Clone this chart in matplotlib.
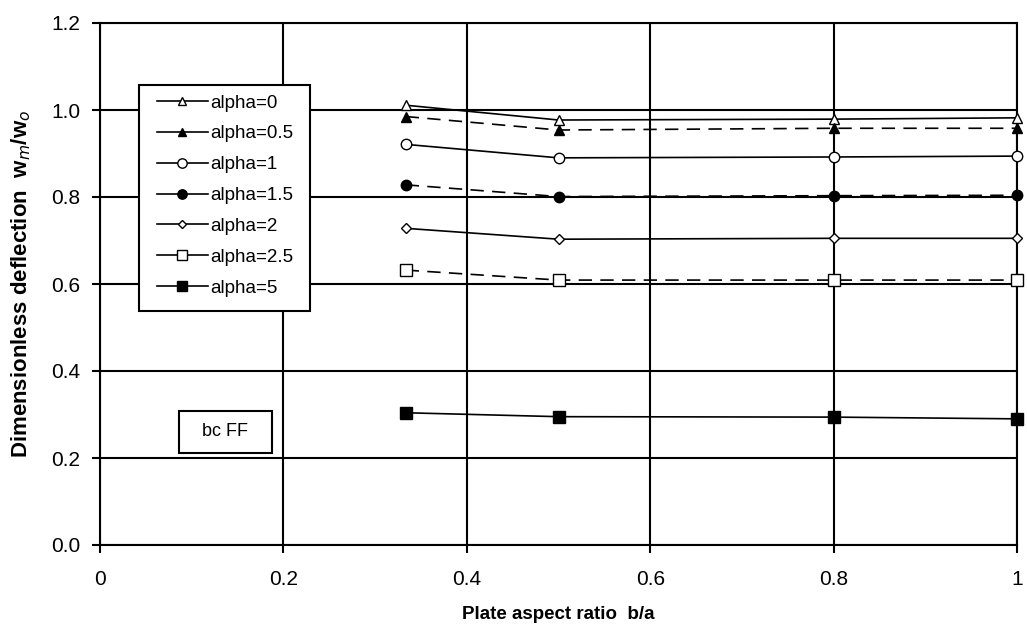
import numpy as np
import matplotlib.pyplot as plt
from matplotlib.lines import Line2D
from matplotlib.patches import Rectangle

plt.rcParams['font.family'] = ['Liberation Sans', 'DejaVu Sans']

# data
aspect = [1/3, 0.5, 0.8, 1.0]
labels = ['alpha=0', 'alpha=0.5', 'alpha=1', 'alpha=1.5', 'alpha=2', 'alpha=2.5', 'alpha=5']
w_a0 = [1.011, 0.977, 0.979, 0.982]
w_a05 = [0.985, 0.954, 0.958, 0.958]
w_a1 = [0.921, 0.890, 0.892, 0.894]
w_a15 = [0.828, 0.801, 0.803, 0.804]
w_a2 = [0.728, 0.703, 0.705, 0.705]
w_a25 = [0.632, 0.609, 0.609, 0.609]
w_a5 = [0.304, 0.295, 0.294, 0.290]
series = [w_a0, w_a05, w_a1, w_a15, w_a2, w_a25, w_a5]

# marker, marker face, marker size, dashed?
styles = [('^', 'white', 7, False),
          ('^', 'black', 7, True),
          ('o', 'white', 7.5, False),
          ('o', 'black', 7.5, True),
          ('D', 'white', 5, False),
          ('s', 'white', 8, True),
          ('s', 'black', 8, False)]

W, H = 1027, 641
fig = plt.figure(figsize=(W/100, H/100), dpi=100)
ax = fig.add_axes([100/W, 1 - 545/H, 917/W, 522/H])

handles = []
for vals, lab, (mk, fc, ms, dashed) in zip(series, labels, styles):
    ls = (0, (8, 5)) if dashed else '-'
    ax.plot(aspect, vals, color='black', lw=1.2, ls=ls, marker=mk, mfc=fc,
            mec='black', mew=1.0, ms=ms, zorder=3, clip_on=False)
    handles.append(Line2D([], [], color='black', lw=1.2, marker=mk, mfc=fc,
                          mec='black', mew=1.0, ms=ms*0.9))

ax.set_xlim(0, 1)
ax.set_ylim(0, 1.2)
ax.set_xticks(np.arange(0, 1.01, 0.2))
ax.set_xticklabels(['0', '0.2', '0.4', '0.6', '0.8', '1'])
ax.set_yticks(np.arange(0, 1.21, 0.2))
ax.set_yticklabels(['%.1f' % v for v in np.arange(0, 1.21, 0.2)])
ax.grid(True, color='black', lw=1.5)
ax.set_axisbelow(True)
for s in ax.spines.values():
    s.set_linewidth(1.5)
ax.tick_params(direction='out', length=6, width=1.5, labelsize=15)
ax.tick_params(axis='y', pad=8)
ax.tick_params(axis='x', pad=12)

ax.set_xlabel('Plate aspect ratio  b/a', fontsize=13.5, fontweight='bold', labelpad=12)
ax.set_ylabel('Dimensionless deflection  w$_m$/w$_o$', fontsize=16,
              fontweight='bold', labelpad=13)

# legend: entries without frame, box drawn separately (wide side padding)
leg = ax.legend(handles, labels, loc='upper left', bbox_to_anchor=(0.0622, 0.863),
                borderaxespad=0, frameon=False, fontsize=13.5, labelspacing=0.73,
                handlelength=2.7, handletextpad=0.15, borderpad=0)
leg.set_zorder(6)
ax.add_patch(Rectangle((39/917, 234/522), 171/917, 226/522, transform=ax.transAxes,
                       fc='white', ec='black', lw=1.5, zorder=5))

ax.add_patch(Rectangle((79/917, 92/522), 93/917, 42/522, transform=ax.transAxes,
                       fc='white', ec='black', lw=1.5, zorder=5))
ax.text(125.5/917, 113/522, 'bc FF', fontsize=13, ha='center', va='center',
        transform=ax.transAxes, zorder=6)

fig.savefig('out.png', dpi=100)
